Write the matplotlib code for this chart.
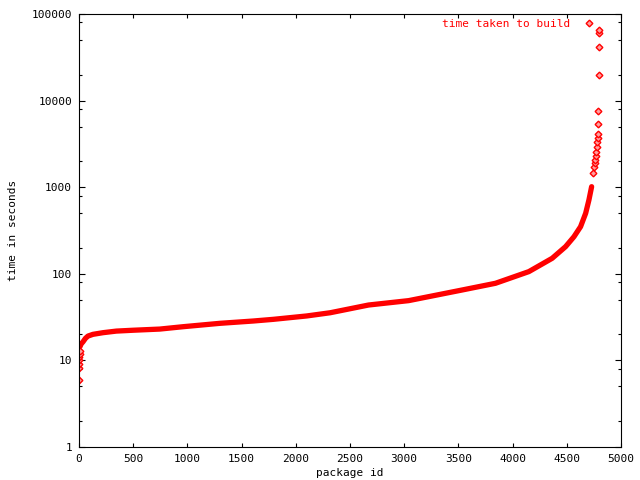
import numpy as np
import matplotlib
matplotlib.use("Agg")
import matplotlib.pyplot as plt
from matplotlib.ticker import FixedLocator, FixedFormatter, LogLocator, NullFormatter

# Build times (s), sorted by package id
# dense band of the curve
curve_ids = [10, 20, 37, 60, 83, 129, 222, 345, 500, 745, 961, 1300, 1608, 1793,
             2101, 2317, 2671, 3041, 3534, 3842, 4150, 4365, 4489, 4566, 4627, 4674, 4704, 4729]
curve_times = [14.5, 15.5, 16.4, 18.0, 19.1, 20.0, 20.9, 21.8, 22.3, 23.0, 24.5, 26.8, 28.5, 29.8,
               32.6, 35.5, 43.6, 49.0, 65.0, 77.7, 106, 151, 206, 268, 350, 500, 711, 1014]

# individual points at both ends
point_ids = [0, 1, 2, 3, 4, 6, 8,
             4744, 4750, 4756, 4760, 4766, 4772, 4777, 4781, 4785, 4788, 4790, 4791, 4793, 4795, 4797, 4799]
point_times = [6.0, 8.1, 9.2, 10.0, 11.0, 12.0, 13.0,
               1445, 1700, 1900, 2060, 2300, 2570, 2900, 3300, 3700, 4100, 5300, 7500, 19600, 42000, 61000, 66000]

y_ticks = [1, 10, 100, 1000, 10000, 100000]
y_tick_labels = ["1", "10", "100", "1000", "10000", "100000"]
x_ticks = list(range(0, 5001, 500))

plt.rcParams['font.family'] = ['DejaVu Sans Mono']
plt.rcParams['font.size'] = 8

fig = plt.figure(figsize=(6.4, 4.8), dpi=100)
ax = fig.add_axes([79/640, 33/480, (621-79)/640, (447-14)/480])

red = '#ff0000'
ax.plot(curve_ids, curve_times, '-', color=red, linewidth=3.8, solid_capstyle='round')
ax.plot(point_ids, point_times, 'D', color=red, markersize=3.4, markerfacecolor='#ffa0a0',
        markeredgewidth=1.0, linestyle='none', label='time taken to build')

ax.set_yscale('log')
ax.set_xlim(0, 5000)
ax.set_ylim(1, 100000)

ax.yaxis.set_major_locator(FixedLocator(y_ticks))
ax.yaxis.set_major_formatter(FixedFormatter(y_tick_labels))
ax.yaxis.set_minor_locator(LogLocator(base=10, subs=[2, 5, 8]))
ax.yaxis.set_minor_formatter(NullFormatter())
ax.set_xticks(x_ticks)
ax.set_xticklabels([str(v) for v in x_ticks])

ax.tick_params(which='both', direction='in', top=True, right=True, width=0.8, color='black')
ax.tick_params(axis='y', which='major', length=4, pad=5)
ax.tick_params(axis='y', which='minor', length=2)
ax.tick_params(axis='x', which='major', length=3, pad=5)
for s in ax.spines.values():
    s.set_linewidth(0.8)

ax.set_xlabel("package id", labelpad=3)
ax.set_ylabel("time in seconds", labelpad=10)

leg = ax.legend(loc='upper right', bbox_to_anchor=(0.963, 1.004), frameon=False, markerfirst=False,
                labelcolor=red, handlelength=1.0, handletextpad=1.2, borderaxespad=0.2)

fig.savefig("out.png", dpi=100)
